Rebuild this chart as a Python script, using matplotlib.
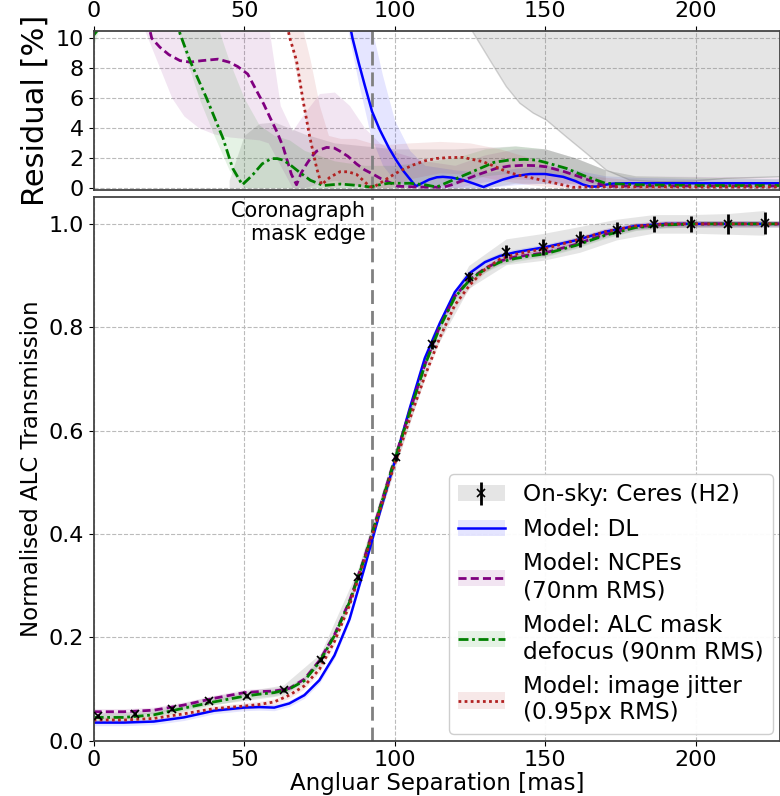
import numpy as np
import matplotlib.pyplot as plt

# on-sky Ceres points
sky_x = [1.4, 13.8, 26.2, 38.4, 50.8, 63.1, 75.4, 87.7, 100.3, 112.5, 124.6,
         137.0, 149.3, 161.5, 173.7, 186.0, 198.3, 210.6, 222.9]
sky_y = [0.048, 0.051, 0.061, 0.077, 0.087, 0.098, 0.157, 0.316, 0.548, 0.767, 0.8975,
         0.946, 0.9555, 0.970, 0.989, 1.000, 1.000, 1.000, 1.002]
sky_err = [0.004, 0.004, 0.004, 0.004, 0.004, 0.004, 0.004, 0.005, 0.006, 0.0087, 0.0097,
           0.0126, 0.015, 0.0155, 0.0145, 0.015, 0.016, 0.019, 0.0216]
sky_band = [0.006, 0.006, 0.007, 0.008, 0.009, 0.010, 0.012, 0.015, 0.018, 0.020, 0.022,
            0.025, 0.026, 0.025, 0.020, 0.018, 0.018, 0.020, 0.024]

# model transmission curves
mod_x = [0, 10, 20, 30, 40, 50, 55, 60, 65, 70, 75, 80, 85, 90, 95, 100, 105, 110, 115,
         120, 125, 130, 135, 140, 145, 150, 160, 170, 180, 190, 200, 210, 220, 228]
dl = [0.035, 0.035, 0.037, 0.045, 0.058, 0.064, 0.065, 0.064, 0.072, 0.088, 0.117, 0.165,
      0.235, 0.335, 0.440, 0.540, 0.643, 0.740, 0.808, 0.868, 0.905, 0.926, 0.938, 0.945,
      0.950, 0.955, 0.968, 0.985, 0.996, 1.0, 1.0, 1.0, 1.0, 1.0]
ncpe = [0.056, 0.056, 0.059, 0.069, 0.082, 0.093, 0.095, 0.096, 0.101, 0.119, 0.155, 0.205,
        0.270, 0.355, 0.450, 0.545, 0.637, 0.727, 0.802, 0.860, 0.893, 0.914, 0.928, 0.936,
        0.940, 0.944, 0.960, 0.980, 0.994, 0.999, 1.0, 1.0, 1.0, 1.0]
alc = [0.045, 0.045, 0.050, 0.063, 0.075, 0.086, 0.090, 0.093, 0.100, 0.116, 0.152, 0.203,
       0.268, 0.353, 0.448, 0.543, 0.635, 0.726, 0.800, 0.858, 0.892, 0.912, 0.926, 0.933,
       0.938, 0.942, 0.958, 0.978, 0.993, 0.998, 1.0, 1.0, 1.0, 1.0]
jit = [0.040, 0.040, 0.043, 0.052, 0.062, 0.067, 0.070, 0.075, 0.088, 0.106, 0.138, 0.192,
       0.262, 0.350, 0.443, 0.535, 0.622, 0.705, 0.780, 0.843, 0.882, 0.912, 0.932, 0.941,
       0.947, 0.952, 0.968, 0.985, 0.996, 1.0, 1.0, 1.0, 1.0, 1.0]
band_w = 0.006

# residuals [%]
dl_rx = [84, 86, 88, 90, 92.5, 95, 98, 100.5, 103, 105, 107, 109, 111.5, 114, 116, 119, 123,
         126, 129.5, 132, 136, 140, 145, 150, 156, 160, 162.5, 165, 167, 170, 172.5, 178,
         190, 200, 210, 220, 228]
dl_r = [12, 10.0, 8.4, 6.9, 5.1, 3.9, 2.7, 1.85, 1.1, 0.6, 0.1, 0.3, 0.55, 0.7, 0.73, 0.68,
        0.5, 0.3, 0.05, 0.25, 0.55, 0.78, 0.92, 0.92, 0.73, 0.45, 0.22, 0.08, 0.08, 0.2,
        0.28, 0.3, 0.3, 0.3, 0.3, 0.3, 0.3]
ncpe_rx = [17, 19.3, 22, 25, 28.7, 32, 36, 41.3, 45, 47.9, 51.2, 54.1, 56.5, 58.6, 61, 63,
           65.7, 67.4, 69, 70.8, 72.5, 74.1, 77.4, 80, 81.8, 84.5, 87.3, 90, 92.9, 95.5,
           98.4, 101, 108, 116, 119, 122.8, 128, 133.8, 138, 142.7, 147, 150.4, 156, 161.5,
           166, 170.3, 180, 200, 228]
ncpe_r = [12, 10.0, 9.4, 8.9, 8.5, 8.4, 8.5, 8.6, 8.4, 8.1, 7.6, 6.5, 5.6, 4.7, 3.7, 2.7,
          0.9, 0.2, 1.0, 1.6, 2.1, 2.45, 2.7, 2.65, 2.45, 2.1, 1.6, 1.2, 0.9, 0.6,
          0.35, 0.1, 0.05, 0.03, 0.2, 0.5, 0.9, 1.3, 1.45, 1.5, 1.48, 1.4, 1.1, 0.73,
          0.4, 0.1, 0.12, 0.12, 0.12]
alc_rx = [0, 2, 6, 26, 28.7, 32, 37.5, 43, 46.2, 49.4, 51.5, 53, 56, 59, 61, 63, 65.5, 68,
          72, 76.3, 79, 82, 88, 92, 95, 98, 105, 110, 114, 118, 125, 133, 138, 143, 147, 150,
          157, 163, 170, 180, 200, 228]
alc_r = [10.2, 10.7, 13, 13, 10.3, 8.5, 6.0, 3.3, 1.3, 0.2, 0.6, 0.9, 1.6, 1.95, 1.95, 1.85,
         1.5, 1.1, 0.5, 0.15, 0.2, 0.25, 0.15, 0.05, 0.2, 0.3, 0.3, 0.2, 0.05, 0.4, 1.0,
         1.7, 1.85, 1.9, 1.85, 1.7, 1.3, 0.8, 0.3, 0.2, 0.15, 0.15]
jit_rx = [63, 65.2, 67.4, 69.6, 71.8, 74.1, 75.7, 78.5, 81.8, 84.5, 87.3, 89.5, 91.8, 93,
          95.5, 98.4, 102, 106.1, 110, 113.8, 118, 122.8, 129.4, 133, 137.2, 141, 144.9,
          149, 153.7, 159.3, 167, 180, 200, 228]
jit_r = [12, 10.0, 8.5, 5.8, 3.4, 1.3, 0.2, 0.7, 1.07, 1.07, 0.9, 0.5, 0.07, 0.05, 0.35,
         0.73, 1.15, 1.52, 1.8, 1.96, 2.02, 2.03, 1.74, 1.45, 1.07, 0.85, 0.69, 0.5, 0.29,
         0.03, 0.07, 0.05, 0.05, 0.05]

# residual uncertainty bands
dl_bx = [80, 84, 88, 92, 96, 100, 105, 110, 120, 130, 140, 150, 160, 170, 180, 200, 228]
dl_blo = [12, 11, 7, 3.5, 1.5, 0.5, 0, 0, 0, 0, 0.2, 0.3, 0, 0, 0, 0, 0]
dl_bhi = [12, 12, 12, 11, 7.5, 4.5, 2.5, 1.5, 1.2, 1.0, 1.3, 1.5, 1.2, 0.8, 0.7, 0.6, 0.6]
ncpe_bx = [14, 18, 22, 26, 30, 35, 40, 45, 50, 55, 58, 62, 66, 70, 75, 80, 85, 90, 95, 100,
           110, 120, 130, 140, 150, 160, 170, 180, 228]
ncpe_blo = [12, 10, 8, 6, 4.8, 4.0, 3.6, 3.4, 3.3, 3.2, 3.0, 1.5, 0, 0, 0.3, 0.5, 0.3, 0, 0,
            0, 0, 0, 0.4, 0.6, 0.5, 0.2, 0, 0, 0]
ncpe_bhi = [12, 12, 12, 12, 12, 12, 12, 12, 12, 12, 11, 5.5, 3.8, 5.0, 6.3, 6.4, 5.5, 4.0,
            3.0, 2.4, 1.8, 1.5, 2.2, 2.6, 2.6, 2.0, 1.2, 0.8, 0.7]
alc_bx = [0, 4, 24, 28, 31, 35, 40, 45, 50, 55, 60, 65, 70, 80, 90, 100, 120, 130, 140, 150,
          160, 170, 180, 228]
alc_blo = [9.5, 12, 12, 10.5, 8.5, 6, 3.5, 1.2, 0, 0, 0, 0, 0, 0, 0, 0, 0.2, 0.8, 1.0, 0.9,
           0.5, 0, 0, 0]
alc_bhi = [12, 12, 12, 12, 12, 12, 11.5, 8.5, 6.0, 4.2, 3.5, 3.2, 2.5, 1.8, 1.5, 1.5, 2.0,
           2.6, 2.8, 2.6, 2.0, 1.2, 0.8, 0.6]
jit_bx = [63, 66, 69, 72, 75, 78, 82, 87, 92, 98, 105, 115, 125, 135, 145, 155, 165, 180, 228]
jit_blo = [12, 9, 6, 3.0, 0.3, 0, 0.2, 0.2, 0, 0, 0.6, 1.0, 0.9, 0.5, 0.2, 0, 0, 0, 0]
jit_bhi = [12, 12, 11, 8.5, 5.5, 3.5, 3.3, 3.3, 3.0, 2.9, 3.0, 3.1, 3.0, 2.6, 2.0, 1.2, 0.8,
           0.5, 0.4]
# on-sky residual bands: a low band at small separations and the wide region at large ones
sky_lx = [45, 50, 55, 60, 65, 70, 75, 80, 90, 100, 110, 120, 130, 140, 150, 160, 170]
sky_llo = [0, 0, 0, 0, 0, 0, 0, 0, 0, 0, 0, 0, 0, 0.3, 0.3, 0.3, 0.3]
sky_lhi = [0.5, 3.5, 4.3, 4.4, 4.0, 3.6, 3.3, 3.0, 2.8, 2.6, 2.6, 2.6, 2.7, 2.8, 2.6, 2.0, 1.2]
sky_hx = [124, 126, 131.6, 137.1, 141.6, 146, 150.4, 157, 163.7, 170.3, 178, 188, 199, 210,
          228]
sky_hlo = [12, 10.4, 8.55, 6.76, 5.65, 5.0, 4.53, 3.41, 2.3, 1.18, 0.52, 0.4, 0.45, 0.63, 0.74]

mask_edge = 92.4

plt.rcParams['font.family'] = 'DejaVu Sans'
fig = plt.figure(figsize=(7.8, 7.96), dpi=100)
ax_r = fig.add_axes([0.12, 0.7613, 0.88, 0.2001])
ax = fig.add_axes([0.12, 0.0695, 0.88, 0.683])

models = [
    ('Model: DL', dl, dl_rx, dl_r, dl_bx, dl_blo, dl_bhi, 'blue', '-', 1.8),
    ('Model: NCPEs\n(70nm RMS)', ncpe, ncpe_rx, ncpe_r, ncpe_bx, ncpe_blo, ncpe_bhi,
     'purple', (0, (2.9, 1.5)), 2.0),
    ('Model: ALC mask\ndefocus (90nm RMS)', alc, alc_rx, alc_r, alc_bx, alc_blo, alc_bhi,
     'green', (0, (3.6, 1.3, 1.0, 1.3)), 2.0),
    ('Model: image jitter\n(0.95px RMS)', jit, jit_rx, jit_r, jit_bx, jit_blo, jit_bhi,
     'firebrick', (0, (1.0, 1.2)), 2.0),
]

# main panel
sx = np.array(sky_x)
sy = np.array(sky_y)
sb = np.array(sky_band)
sky_fill = ax.fill_between(sx, sy - sb, sy + sb, color='grey', alpha=0.2, lw=0)
handles = []
labels = []
for lab, y, rx, r, bx, blo, bhi, c, ls, lw in models:
    y = np.array(y)
    f = ax.fill_between(mod_x, y - band_w, y + band_w, color=c, alpha=0.1, lw=0)
    ln, = ax.plot(mod_x, y, color=c, ls=ls, lw=lw)
    handles.append((f, ln))
    labels.append(lab)
eb = ax.errorbar(sky_x, sky_y, yerr=sky_err, fmt='x', color='black', ms=6, mew=1.2,
                 elinewidth=2, capsize=0, zorder=5)
handles.insert(0, (sky_fill, eb))
labels.insert(0, 'On-sky: Ceres (H2)')

ax.axvline(mask_edge, color='grey', ls=(0, (5, 2.5)), lw=2, zorder=1)
ax.text(mask_edge - 2, 1.045, 'Coronagraph\nmask edge', ha='right', va='top', fontsize=15)

ax.set_xlim(0, 228)
ax.set_ylim(0, 1.052)
ax.set_xticks([0, 50, 100, 150, 200])
ax.set_yticks([0.0, 0.2, 0.4, 0.6, 0.8, 1.0])
ax.grid(True, ls='--', color='#bbbbbb', lw=0.8)
ax.set_axisbelow(True)
ax.tick_params(labelsize=16)
ax.set_xlabel('Angluar Separation [mas]', fontsize=16.5, labelpad=1)
ax.set_ylabel('Normalised ALC Transmission', fontsize=16.5)
ax.legend(handles, labels, loc='lower right', fontsize=16.7, framealpha=0.95,
          handlelength=2.0, borderaxespad=0.3, labelspacing=0.5)

# residual panel
ax_r.fill_between(sky_lx, sky_llo, sky_lhi, color='grey', alpha=0.2, lw=0)
ax_r.fill_between(sky_hx, sky_hlo, 12, color='grey', alpha=0.2, lw=0)
ax_r.plot(sky_hx, sky_hlo, color='grey', alpha=0.35, lw=1)
for lab, y, rx, r, bx, blo, bhi, c, ls, lw in models:
    ax_r.fill_between(bx, blo, bhi, color=c, alpha=0.1, lw=0)
    ax_r.plot(rx, r, color=c, ls=ls, lw=lw)
ax_r.axvline(mask_edge, color='grey', ls=(0, (5, 2.5)), lw=2, zorder=1)
ax_r.set_xlim(0, 228)
ax_r.set_ylim(-0.15, 10.5)
ax_r.set_xticks([0, 50, 100, 150, 200])
ax_r.set_yticks([0, 2, 4, 6, 8, 10])
ax_r.xaxis.tick_top()
ax_r.grid(True, ls='--', color='#bbbbbb', lw=0.8)
ax_r.set_axisbelow(True)
ax_r.tick_params(labelsize=16)
ax_r.set_ylabel('Residual [%]', fontsize=22)
for a in (ax, ax_r):
    for s in a.spines.values():
        s.set_color('#444444')
        s.set_linewidth(1.3)

fig.savefig('out.png', dpi=100)
